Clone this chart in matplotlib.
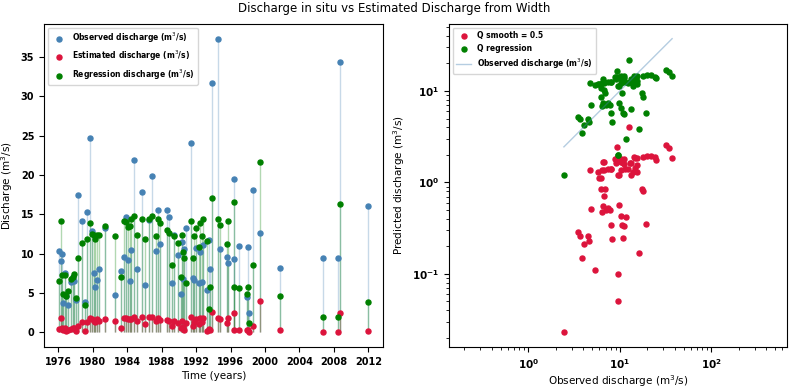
import matplotlib
matplotlib.use("Agg")
import matplotlib.pyplot as plt
from matplotlib.ticker import FuncFormatter, LogLocator
import numpy as np

# decimal years of each measurement
years = [1976.12, 1976.31, 1976.43, 1976.58, 1976.74, 1976.93, 1977.17, 1977.44, 1977.67, 1977.83,
         1978.02, 1978.33, 1978.72, 1979.11, 1979.38, 1979.69, 1979.92, 1980.12, 1980.31, 1980.47,
         1980.74, 1981.36, 1982.60, 1983.26, 1983.65, 1983.81, 1984.08, 1984.27, 1984.39, 1984.74,
         1985.17, 1985.75, 1986.10, 1986.49, 1986.87, 1987.30, 1987.57, 1987.81, 1988.58, 1988.82,
         1989.20, 1989.48, 1989.90, 1990.29, 1990.41, 1990.52, 1990.64, 1990.83, 1991.46, 1991.61,
         1991.77, 1991.96, 1992.39, 1992.50, 1992.74, 1992.85, 1993.24, 1993.44, 1993.67, 1993.83,
         1994.49, 1994.76, 1995.57, 1995.73, 1996.39, 1996.43, 1996.97, 1997.86, 1997.98, 1998.17,
         1998.56, 1999.42, 2001.79, 2006.76, 2008.47, 2008.70, 2011.92]

observed = [10.3, 9.1, 9.9, 3.7, 7.5, 4.6, 3.5, 6.4, 7.0, 6.5,
            4.1, 17.4, 14.1, 3.9, 15.3, 24.7, 12.9, 7.5, 5.8, 6.7,
            8.0, 13.3, 4.7, 7.8, 9.6, 14.7, 9.2, 6.5, 10.4, 21.9,
            8.1, 17.8, 6.0, 14.3, 19.8, 10.3, 15.6, 11.2, 15.5, 14.6,
            6.3, 12.4, 9.8, 4.9, 11.5, 6.8, 10.6, 13.2, 24.1, 6.9,
            6.7, 10.7, 6.3, 10.2, 6.4, 11.1, 5.4, 11.7, 8.0, 31.7,
            37.3, 10.6, 9.6, 8.8, 9.3, 19.5, 11.0, 4.5, 10.8, 2.45,
            18.1, 12.6, 8.2, 9.5, 9.5, 34.4, 16.1]

estimated = [0.43, 1.82, 0.56, 0.26, 0.53, 0.23, 0.29, 0.47, 0.50, 0.55,
             0.21, 0.85, 1.30, 0.15, 1.30, 1.77, 1.64, 1.39, 1.30, 1.66,
             1.39, 1.64, 1.38, 0.50, 1.82, 1.86, 1.63, 1.66, 1.67, 1.97,
             1.39, 1.89, 1.12, 1.90, 1.97, 1.38, 1.86, 1.58, 1.54, 1.45,
             0.84, 1.40, 1.20, 0.51, 1.39, 0.72, 0.34, 1.22, 1.90, 0.85,
             1.36, 1.67, 1.12, 1.82, 1.36, 1.80, 0.11, 0.42, 0.34, 2.55,
             1.86, 1.67, 1.20, 1.82, 2.45, 0.35, 0.33, 0.26, 0.25, 0.023,
             0.80, 4.0, 0.24, 0.05, 0.10, 2.40, 0.17]

regression = [6.5, 14.1, 7.3, 4.9, 7.3, 4.6, 5.2, 6.8, 7.0, 7.4,
              4.3, 9.4, 11.4, 3.5, 11.8, 13.9, 12.5, 12.4, 11.8, 12.4,
              12.4, 13.5, 12.2, 7.0, 14.1, 14.0, 13.4, 13.5, 14.4, 14.8,
              12.4, 14.4, 11.8, 14.4, 14.8, 12.2, 14.4, 13.9, 13.0, 12.6,
              8.5, 12.2, 11.4, 7.0, 12.4, 10.2, 9.4, 6.3, 14.1, 9.4,
              12.2, 13.2, 10.8, 13.9, 12.2, 14.4, 11.6, 3.0, 5.7, 17.1,
              14.4, 13.6, 11.2, 14.1, 16.6, 5.8, 5.6, 4.9, 5.7, 1.2,
              8.5, 21.6, 4.6, 2.0, 2.0, 16.3, 3.8]

year_ticks = [1976, 1980, 1984, 1988, 1992, 1996, 2000, 2004, 2008, 2012]

c_obs = "#4682B4"
c_est = "#DC143C"
c_reg = "#008000"

fig = plt.figure(figsize=(7.89, 3.90), dpi=100)
ax1 = fig.add_axes([44/789, 1-347/390, 339/789, 323/390])
ax2 = fig.add_axes([449/789, 1-347/390, 338/789, 323/390])

fig.suptitle("Discharge in situ vs Estimated Discharge from Width", fontsize=8.5, y=0.995)

# ---- left panel ----
ax1.vlines(years, 0, observed, color=c_obs, alpha=0.3, lw=1)
ax1.vlines(years, 0, estimated, color=c_est, alpha=0.3, lw=1)
ax1.vlines(years, 0, regression, color=c_reg, alpha=0.3, lw=1)
ax1.scatter(years, observed, s=13, color=c_obs, label="Observed discharge (m$^3$/s)", zorder=3)
ax1.scatter(years, estimated, s=13, color=c_est, label="Estimated discharge (m$^3$/s)", zorder=3)
ax1.scatter(years, regression, s=13, color=c_reg, label="Regression discharge (m$^3$/s)", zorder=3)
ax1.set_xticks(year_ticks)
ax1.set_xticklabels([str(t) for t in year_ticks])
ax1.set_xlabel("Time (years)", fontsize=7.5, labelpad=3)
ax1.set_ylabel("Discharge (m$^3$/s)", fontsize=7.5)
ax1.legend(loc="upper left", prop={"weight": "bold", "size": 5.5})
ax1.tick_params(labelsize=7)
for lab in ax1.get_xticklabels() + ax1.get_yticklabels():
    lab.set_fontweight("bold")

# ---- right panel ----
ax2.scatter(observed, estimated, s=13, color=c_est, label="Q smooth = 0.5")
ax2.scatter(observed, regression, s=13, color=c_reg, label="Q regression")
obs_sorted = sorted(observed)
ax2.plot(obs_sorted, obs_sorted, color=c_obs, alpha=0.4, lw=1, label="Observed discharge (m$^3$/s)")
ax2.set_xscale("log")
ax2.set_yscale("log")
ax2.set_aspect("equal", adjustable="datalim")
ax2.set_xlabel("Observed discharge (m$^3$/s)", fontsize=7.5, labelpad=2)
ax2.set_ylabel("Predicted discharge (m$^3$/s)", fontsize=7.5)
ax2.legend(loc="upper left", prop={"weight": "bold", "size": 5.5})


def bold_pow(v, pos):
    e = int(round(np.log10(v)))
    return r"$\mathbf{10^{%d}}$" % e


for axis in (ax2.xaxis, ax2.yaxis):
    axis.set_major_locator(LogLocator(base=10))
    axis.set_major_formatter(FuncFormatter(bold_pow))
ax2.tick_params(labelsize=7.5)

fig.savefig("out.png", dpi=100)
